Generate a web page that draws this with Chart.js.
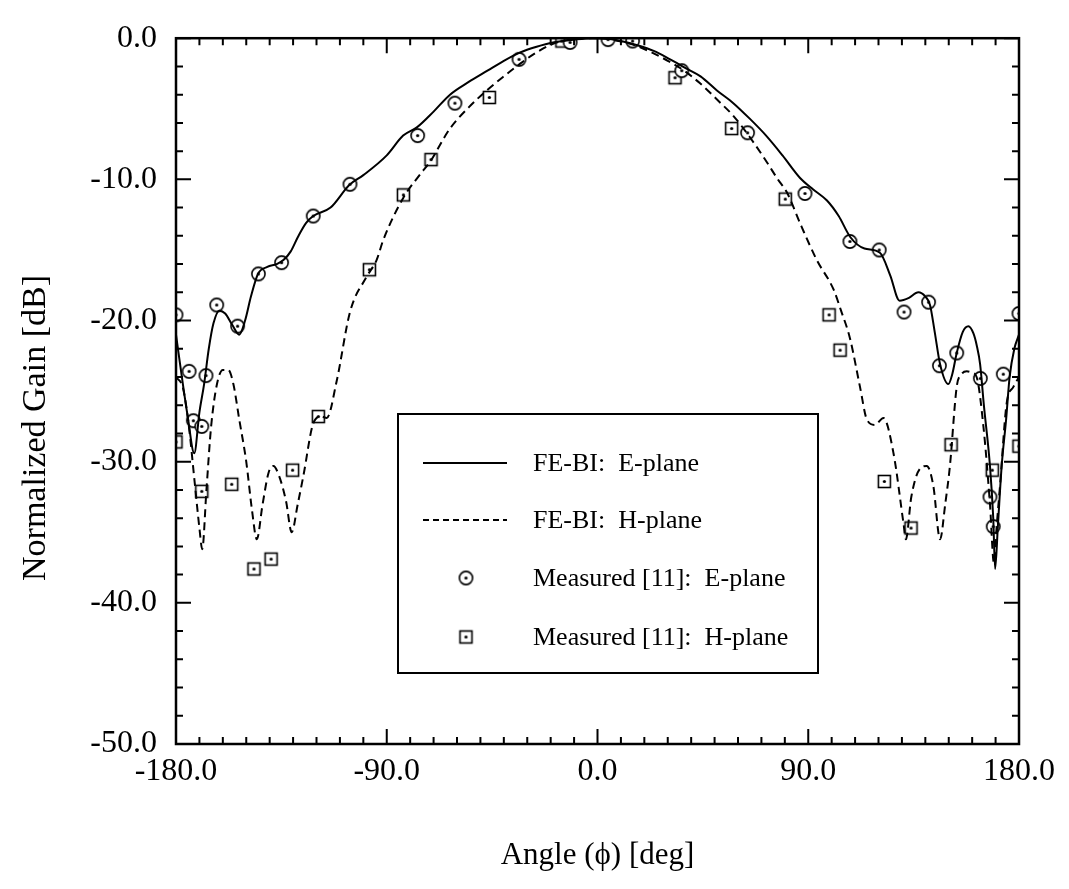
<!DOCTYPE html>
<html>
<head>
<meta charset="utf-8">
<script src="https://cdn.jsdelivr.net/npm/chart.js@4.4.1/dist/chart.umd.min.js"></script>
<style>
  html, body { margin: 0; padding: 0; background: #fff; }
  #gain-chart { display: block; }
</style>
</head>
<body>
<canvas id="gain-chart" width="1069" height="889"></canvas>
<script>
// FE-BI computed patterns (angle in deg, normalized gain in dB)
const eAngle = [-180, -177.5, -175, -172.2, -170, -168, -166, -164, -161.5, -159, -156, -153, -150.5, -148, -145, -141, -137, -134, -131, -128, -124.5, -121.4, -114, -106, -100, -90, -83, -77, -70, -63, -55, -47, -40, -33, -26, -19, -10, -2, 5, 10, 17, 24, 31, 38, 44, 51, 58, 65, 72, 79, 86.5, 92, 98, 103, 108, 114, 120.6, 125, 129, 133, 137, 140, 142, 144, 146.3, 149.8, 151.5, 153.4, 156, 158.4, 160.5, 162, 163.4, 165, 167.6, 169, 169.8, 171, 172.6, 174.5, 176, 178, 180];
const eGain  = [-21.0, -24.0, -26.8, -29.4, -26.5, -24.5, -22.0, -20.2, -19.3, -19.5, -20.3, -21.0, -20.0, -18.3, -16.7, -16.2, -16.0, -15.7, -15.1, -14.1, -13.1, -12.6, -12.0, -10.4, -9.7, -8.3, -6.9, -6.3, -5.2, -4.0, -3.1, -2.3, -1.6, -1.0, -0.6, -0.3, -0.1, 0.0, -0.05, -0.2, -0.5, -0.9, -1.5, -2.15, -2.7, -3.7, -4.6, -5.7, -6.9, -8.3, -9.9, -10.7, -11.5, -12.6, -14.1, -14.9, -15.2, -16.8, -18.6, -18.4, -18.0, -18.3, -18.9, -20.8, -23.1, -24.5, -23.8, -22.3, -20.8, -20.4, -20.9, -21.8, -23.1, -26.0, -30.3, -34.0, -37.6, -34.5, -30.3, -27.0, -24.0, -22.0, -21.0];

const hAngle = [-180, -177, -174.5, -172, -170, -168.8, -167, -165, -162.5, -160, -157.7, -155.5, -153, -150, -147.5, -145.5, -143, -140.5, -138.4, -136, -133, -130.6, -128, -125.6, -121.4, -118, -115.6, -111.4, -105.7, -98.6, -94.3, -91.5, -82.9, -76, -71.5, -63, -55, -47.3, -40, -33, -26, -19, -12, -5, 2, 9, 16, 23, 30, 37, 43.8, 52, 58, 65, 72.2, 77, 80.8, 87, 93.6, 100.8, 104, 107.8, 112.1, 115, 118.5, 122.1, 126.4, 130.7, 131.7, 134, 137.7, 140.6, 143.4, 146.3, 148.5, 150.5, 153.4, 155.5, 157.7, 160, 161.9, 164.8, 167.6, 169.3, 170.5, 171.9, 174.7, 177.6, 180];
const hGain  = [-24.0, -24.8, -27.5, -31.5, -34.7, -36.2, -32.0, -27.5, -24.5, -23.5, -23.5, -24.5, -27.0, -30.0, -33.5, -35.5, -33.0, -30.8, -30.3, -31.0, -32.8, -35.0, -33.0, -31.0, -27.3, -26.8, -26.9, -24.3, -19.4, -16.9, -15.7, -14.3, -11.3, -9.7, -8.75, -6.4, -4.9, -3.7, -2.7, -1.8, -1.0, -0.4, -0.1, 0.0, 0.0, -0.2, -0.5, -1.0, -1.6, -2.3, -3.2, -4.5, -5.5, -7.0, -8.75, -10.0, -10.9, -13.3, -15.7, -17.8, -19.3, -21.25, -24.7, -27.0, -27.4, -26.9, -29.4, -34.4, -35.5, -32.5, -30.5, -30.3, -31.7, -35.5, -33.0, -30.3, -24.7, -23.8, -23.6, -23.7, -24.0, -27.5, -33.0, -37.2, -34.5, -31.7, -25.9, -24.7, -24.0];

// measured data [11]
const measEAngle = [-180, -174.4, -172.6, -169, -167.2, -162.6, -153.7, -144.8, -134.9, -121.4, -105.7, -76.8, -60.9, -33.5, -11.7, 4.5, 15, 36, 64.1, 88.6, 107.8, 120.3, 130.9, 141.4, 146, 153.4, 163.5, 167.6, 169, 173.3, 180];
const measEGain  = [-19.6, -23.6, -27.1, -27.5, -23.9, -18.9, -20.4, -16.7, -15.9, -12.6, -10.35, -6.9, -4.6, -1.5, -0.3, -0.1, -0.2, -2.3, -6.7, -11.0, -14.4, -15.0, -19.4, -18.7, -23.2, -22.3, -24.1, -32.5, -34.6, -23.8, -19.5];

const measHAngle = [-180, -169, -156.2, -146.7, -139.4, -130.2, -119.2, -97.4, -82.9, -71.1, -46.2, -15.2, 33.1, 57.3, 80.2, 98.9, 103.6, 122.5, 133.9, 151, 168.6, 180];
const measHGain  = [-28.6, -32.1, -31.6, -37.6, -36.9, -30.6, -26.8, -16.4, -11.1, -8.6, -4.2, -0.2, -2.8, -6.4, -11.4, -19.6, -22.1, -31.4, -34.7, -28.8, -30.6, -28.9];

const xTicks = [-180, -90, 0, 90, 180];
const yTicks = [-50, -40, -30, -20, -10, 0];

const FONT = "'Liberation Serif', 'Times New Roman', serif";

function pairs(xs, ys) {
  return xs.map((x, i) => ({ x: x, y: ys[i] }));
}

// dotted circle / dotted square symbols
function makeMarker(kind) {
  const c = document.createElement('canvas');
  c.width = 17;
  c.height = 17;
  const g = c.getContext('2d');
  g.fillStyle = '#fff';
  g.strokeStyle = '#000';
  g.lineWidth = 1.6;
  if (kind === 'circle') {
    g.beginPath();
    g.arc(8.5, 8.5, 6.6, 0, Math.PI * 2);
    g.fill();
    g.stroke();
  } else {
    g.fillRect(2.5, 2.5, 12, 12);
    g.strokeRect(2.5, 2.5, 12, 12);
  }
  g.fillStyle = '#000';
  g.beginPath();
  g.arc(8.5, 8.5, 1.6, 0, Math.PI * 2);
  g.fill();
  return c;
}

const circleMark = makeMarker('circle');
const squareMark = makeMarker('square');

// box frame with inward major/minor ticks on all four sides
const frameTicks = {
  id: 'frameTicks',
  afterDatasetsDraw(chart) {
    const { ctx, chartArea: a, scales: { x, y } } = chart;
    ctx.save();
    ctx.strokeStyle = '#000';
    ctx.lineWidth = 2;
    ctx.beginPath();
    for (let v = -180; v <= 180; v += 10) {
      const px = x.getPixelForValue(v);
      const len = v % 90 === 0 ? 15 : 7;
      ctx.moveTo(px, a.bottom);
      ctx.lineTo(px, a.bottom - len);
      ctx.moveTo(px, a.top);
      ctx.lineTo(px, a.top + len);
    }
    for (let v = -50; v <= 0; v += 2) {
      const py = y.getPixelForValue(v);
      const len = v % 10 === 0 ? 15 : 7;
      ctx.moveTo(a.left, py);
      ctx.lineTo(a.left + len, py);
      ctx.moveTo(a.right, py);
      ctx.lineTo(a.right - len, py);
    }
    ctx.stroke();
    ctx.lineWidth = 2.5;
    ctx.strokeRect(a.left, a.top, a.right - a.left, a.bottom - a.top);

    // vertical axis title, sitting a little below the middle of the frame
    ctx.translate(36, 428);
    ctx.rotate(-Math.PI / 2);
    ctx.font = '34px ' + FONT;
    ctx.fillStyle = '#000';
    ctx.textAlign = 'center';
    ctx.textBaseline = 'middle';
    ctx.fillText('Normalized Gain [dB]', 0, 0);
    ctx.restore();
  }
};

// boxed legend inside the plot
const boxLegend = {
  id: 'boxLegend',
  afterDraw(chart) {
    const ctx = chart.ctx;
    const box = { left: 398, top: 414, right: 818, bottom: 673 };
    const rowY = [463, 520, 578, 637];
    ctx.save();
    ctx.fillStyle = '#fff';
    ctx.fillRect(box.left, box.top, box.right - box.left, box.bottom - box.top);
    ctx.strokeStyle = '#000';
    ctx.lineWidth = 2;
    ctx.strokeRect(box.left, box.top, box.right - box.left, box.bottom - box.top);
    ctx.font = '26px ' + FONT;
    ctx.fillStyle = '#000';
    ctx.textBaseline = 'middle';
    chart.data.datasets.forEach((ds, i) => {
      const yy = rowY[i];
      if (ds.showLine) {
        ctx.beginPath();
        ctx.lineWidth = 2;
        ctx.setLineDash(ds.borderDash.length ? [6, 4] : []);
        ctx.moveTo(423, yy);
        ctx.lineTo(507, yy);
        ctx.stroke();
        ctx.setLineDash([]);
      } else {
        const img = ds.pointStyle;
        ctx.drawImage(img, 466 - img.width / 2, yy - img.height / 2);
      }
      ctx.fillText(ds.label, 533, yy + 1);
    });
    ctx.restore();
  }
};

new Chart(document.getElementById('gain-chart'), {
  type: 'scatter',
  data: {
    datasets: [
      {
        label: 'FE-BI:  E-plane',
        data: pairs(eAngle, eGain),
        showLine: true,
        borderColor: '#000',
        borderWidth: 2,
        borderDash: [],
        pointRadius: 0,
        cubicInterpolationMode: 'monotone'
      },
      {
        label: 'FE-BI:  H-plane',
        data: pairs(hAngle, hGain),
        showLine: true,
        borderColor: '#000',
        borderWidth: 2,
        borderDash: [8, 5],
        pointRadius: 0,
        cubicInterpolationMode: 'monotone'
      },
      {
        label: 'Measured [11]:  E-plane',
        data: pairs(measEAngle, measEGain),
        showLine: false,
        pointStyle: circleMark
      },
      {
        label: 'Measured [11]:  H-plane',
        data: pairs(measHAngle, measHGain),
        showLine: false,
        pointStyle: squareMark
      }
    ]
  },
  options: {
    responsive: false,
    animation: false,
    devicePixelRatio: 1,
    layout: { padding: { top: 24, right: 50, left: 0, bottom: 0 } },
    plugins: {
      legend: { display: false },
      tooltip: { enabled: false }
    },
    scales: {
      x: {
        type: 'linear',
        min: -180,
        max: 180,
        grid: { display: false, drawTicks: false, tickLength: 0 },
        border: { display: false },
        afterBuildTicks: scale => { scale.ticks = xTicks.map(v => ({ value: v })); },
        afterFit: scale => { scale.height = 145; },
        ticks: {
          padding: 8,
          maxRotation: 0,
          color: '#000',
          font: { family: FONT, size: 32 },
          callback: v => v.toFixed(1)
        },
        title: {
          display: true,
          text: 'Angle (ϕ) [deg]',
          color: '#000',
          font: { family: FONT, size: 31 },
          padding: { top: 0, bottom: 15 }
        }
      },
      y: {
        type: 'linear',
        min: -50,
        max: 0,
        grid: { display: false, drawTicks: false, tickLength: 0 },
        border: { display: false },
        afterBuildTicks: scale => { scale.ticks = yTicks.map(v => ({ value: v })); },
        afterFit: scale => { scale.width = 176; },
        ticks: {
          padding: 19,
          color: '#000',
          font: { family: FONT, size: 32 },
          callback: v => v.toFixed(1)
        }
      }
    }
  },
  plugins: [frameTicks, boxLegend]
});
</script>
</body>
</html>
